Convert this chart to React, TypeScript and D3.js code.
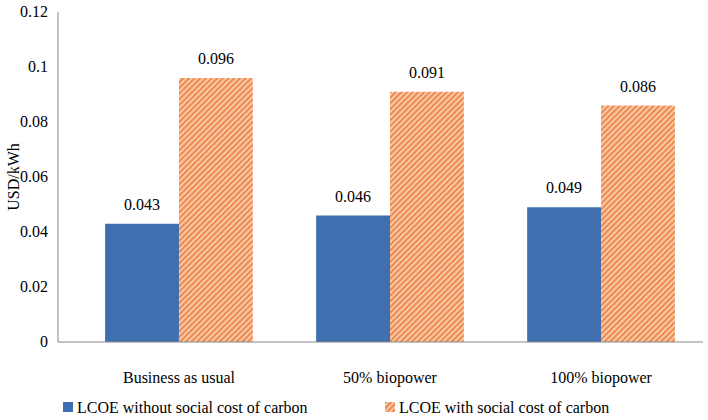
import * as d3 from 'd3'

const categories = ['Business as usual', '50% biopower', '100% biopower']
const withoutScc = [0.043, 0.046, 0.049]
const withScc = [0.096, 0.091, 0.086]
const yTicks = [0, 0.02, 0.04, 0.06, 0.08, 0.1, 0.12]
const seriesNames = ['LCOE without social cost of carbon', 'LCOE with social cost of carbon']

const W = 708
const H = 420
const font = 'Liberation Serif'

export default function App() {
  const left = 58
  const top = 12
  const bottom = 342
  const x = d3.scaleBand().domain(categories).range([84, 696]).paddingInner(0.3).paddingOuter(0.1)
  const y = d3.scaleLinear().domain([0, 0.12]).range([bottom, top])
  const bw = x.bandwidth() / 2

  return (
    <svg width={W} height={H} fontFamily={font} style={{ position: 'absolute', left: 0, top: 0 }}>
      <defs>
        <pattern id="hatch" width="4" height="4" patternUnits="userSpaceOnUse" patternTransform="rotate(-45)">
          <rect width="4" height="4" fill="#F8C9A8" />
          <rect width="4" height="2" fill="#EE8A50" />
        </pattern>
      </defs>
      {categories.map((c, i) => {
        const x0 = x(c)!
        return (
          <g key={c}>
            <rect x={x0} y={y(withoutScc[i])} width={bw} height={bottom - y(withoutScc[i])} fill="#3F6FAE" />
            <rect x={x0 + bw} y={y(withScc[i])} width={bw} height={bottom - y(withScc[i])} fill="url(#hatch)" />
            <text x={x0 + bw / 2} y={y(withoutScc[i]) - 14} textAnchor="middle" fontSize={16}>
              {withoutScc[i].toFixed(3)}
            </text>
            <text x={x0 + bw * 1.5} y={y(withScc[i]) - 14} textAnchor="middle" fontSize={16}>
              {withScc[i].toFixed(3)}
            </text>
            <text x={x0 + bw} y={383} textAnchor="middle" fontSize={16}>{c}</text>
          </g>
        )
      })}
      <line x1={left} x2={left} y1={top} y2={bottom} stroke="#888" />
      <line x1={left} x2={703} y1={bottom} y2={bottom} stroke="#888" />
      {yTicks.map(t => (
        <text key={t} x={48} y={y(t) + 5} textAnchor="end" fontSize={16}>{String(t)}</text>
      ))}
      <text transform={`translate(19,${(top + bottom) / 2}) rotate(-90)`} textAnchor="middle" fontSize={16}>USD/kWh</text>
      <rect x={63} y={402} width={10} height={10} fill="#3F6FAE" />
      <text x={77} y={413} fontSize={16}>{seriesNames[0]}</text>
      <rect x={385} y={402} width={10} height={10} fill="url(#hatch)" />
      <text x={399} y={413} fontSize={16}>{seriesNames[1]}</text>
    </svg>
  )
}
